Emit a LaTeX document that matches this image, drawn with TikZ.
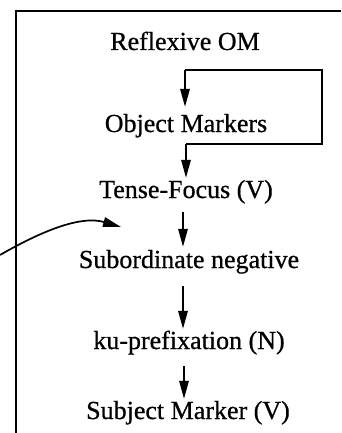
\documentclass[tikz,border=0pt]{standalone}
\usepackage{fontspec}
\setmainfont{Liberation Serif}
\newfontfamily\scanfont{Liberation Serif}[FakeBold=0.7]
\usetikzlibrary{arrows.meta}
\begin{document}
\begin{tikzpicture}[x=1pt,y=-1pt,
  lbl/.style={anchor=base,inner sep=0pt,text height=17pt,text depth=6pt,font=\scanfont\fontsize{26}{30}\selectfont},
  arr/.style={line width=1.7pt,-{Triangle[length=18pt,width=9.5pt]}},
  lin/.style={line width=1.7pt}]
\useasboundingbox (0,0) rectangle (341,433);
\draw[line width=2pt] (341,11) -- (16,11) -- (16,433);
\node[lbl] (ro) at (185,50) {Reflexive OM};
\node[lbl] (om) at (186,132) {Object Markers};
\node[lbl] (tf) at (186,198) {Tense-Focus (V)};
\node[lbl] (sn) at (189,268) {Subordinate negative};
\node[lbl] (ku) at (189,349) {ku-prefixation (N)};
\node[lbl] (sm) at (188,419) {Subject Marker (V)};
\coordinate (c1) at (185,70);
\coordinate (c2) at (322,70);
\coordinate (c3) at (322,144);
\coordinate (c4) at (186,144);
\coordinate (s0) at (0,255);
\coordinate (s1) at (121,227);
\draw[arr,shorten >=8pt] (c1) -- (c1 |- om.north);
\draw[lin] (c1) -- (c2) -- (c3) -- (c4);
\draw[arr,shorten >=3pt] (c4) -- (c4 |- tf.north);
\draw[arr,shorten <=8pt,shorten >=4pt] ([xshift=-3pt]tf.south) -- ([xshift=-6pt]sn.north);
\draw[arr,shorten <=12pt,shorten >=3pt] ([xshift=-6pt]sn.south) -- ([xshift=-6pt]ku.north);
\draw[arr,shorten <=11pt,shorten >=3pt] ([xshift=-5pt]ku.south) -- ([xshift=-4pt]sm.north);
\draw[arr] (s0) .. controls (40,232) and (80,215) .. (s1);
\end{tikzpicture}
\end{document}
